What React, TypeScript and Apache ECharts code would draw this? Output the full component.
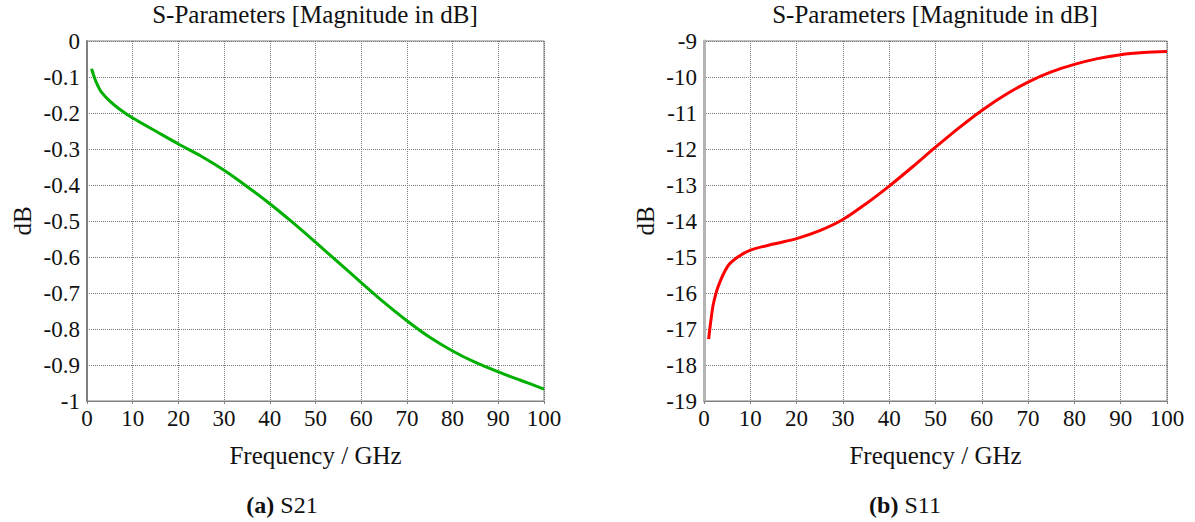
import React, { useEffect, useRef } from "react";
import * as echarts from "echarts";

const freq = [1, 1.5, 2, 3, 5, 7, 10, 15, 20, 25, 30, 35, 40, 45, 50, 55, 60, 65, 70, 75, 80, 85, 90, 95, 100];
const s21 = [-0.077, -0.097, -0.114, -0.139, -0.167, -0.188, -0.214, -0.25, -0.286, -0.32, -0.359, -0.404, -0.452, -0.504, -0.559, -0.615, -0.671, -0.726, -0.777, -0.823, -0.861, -0.893, -0.919, -0.943, -0.967];
const s11 = [-17.28, -16.75, -16.32, -15.84, -15.28, -15.03, -14.81, -14.64, -14.49, -14.27, -13.96, -13.52, -13.03, -12.5, -11.95, -11.42, -10.93, -10.5, -10.14, -9.86, -9.65, -9.49, -9.38, -9.32, -9.29];
const xTicks = [0, 10, 20, 30, 40, 50, 60, 70, 80, 90, 100];
const titleText = "S-Parameters [Magnitude in dB]";
const xName = "Frequency / GHz";
const yName = "dB";

const FONT = "Liberation Serif, Times New Roman, serif";
const TICK_FS = 23;
const NAME_FS = 25;

export default function App() {
  const ref = useRef<HTMLDivElement>(null);
  useEffect(() => {
    document.body.style.margin = "0";
    const chart = echarts.init(ref.current!, undefined, { renderer: "svg" });
    const mkX = (gridIndex: number) => ({
      type: "value",
      gridIndex,
      min: xTicks[0],
      max: xTicks[xTicks.length - 1],
      interval: 10,
      name: xName,
      nameLocation: "middle",
      nameGap: 42,
      nameTextStyle: { fontFamily: FONT, fontSize: NAME_FS, color: "#111" },
      axisLine: { show: true, onZero: false, lineStyle: { color: "#808080", width: 1 } },
      axisTick: { show: true, length: 3, lineStyle: { color: "#808080" } },
      axisLabel: { fontFamily: FONT, fontSize: TICK_FS, color: "#111", margin: 6 },
      splitLine: { show: true, lineStyle: { type: "dotted", color: "#7a7a7a", width: 1 } },
    });
    const mkY = (gridIndex: number, min: number, max: number, interval: number, gap: number, axColor: string, axWidth: number) => ({
      type: "value",
      gridIndex,
      min,
      max,
      interval,
      name: yName,
      nameLocation: "middle",
      nameGap: gap,
      nameRotate: 90,
      nameTextStyle: { fontFamily: FONT, fontSize: NAME_FS, color: "#111" },
      axisLine: { show: true, onZero: false, lineStyle: { color: axColor, width: axWidth } },
      axisTick: { show: false },
      axisLabel: { fontFamily: FONT, fontSize: TICK_FS, color: "#111", margin: 7 },
      splitLine: { show: true, lineStyle: { type: "dotted", color: "#7a7a7a", width: 1 } },
    });
    const titleStyle = { fontFamily: FONT, fontSize: NAME_FS, fontWeight: "normal", color: "#111" };
    const capRich = {
      b: { fontFamily: FONT, fontSize: 24, fontWeight: "bold", fill: "#111" },
      n: { fontFamily: FONT, fontSize: 24, fill: "#111" },
    };
    chart.setOption({
      animation: false,
      backgroundColor: "#ffffff",
      textStyle: { fontFamily: FONT },
      title: [
        { text: titleText, left: 315, top: 2, padding: 0, textAlign: "center", textStyle: titleStyle },
        { text: titleText, left: 935, top: 2, padding: 0, textAlign: "center", textStyle: titleStyle },
      ],
      grid: [
        { left: 87, top: 41, width: 457, height: 360, show: true, borderColor: "#808080", borderWidth: 1 },
        { left: 704, top: 41, width: 463, height: 360, show: true, borderColor: "#808080", borderWidth: 1 },
      ],
      xAxis: [mkX(0), mkX(1)],
      yAxis: [
        mkY(0, -1, 0, 0.1, 52, "#808080", 2),
        mkY(1, -19, -9, 1, 46, "#b4b4b4", 3),
      ],
      series: [
        {
          type: "line",
          xAxisIndex: 0,
          yAxisIndex: 0,
          data: freq.map((f, i) => [f, s21[i]]),
          smooth: 0.3,
          showSymbol: false,
          lineStyle: { color: "#00b000", width: 3 },
        },
        {
          type: "line",
          xAxisIndex: 1,
          yAxisIndex: 1,
          data: freq.map((f, i) => [f, s11[i]]),
          smooth: 0.3,
          showSymbol: false,
          lineStyle: { color: "#ff0000", width: 3 },
        },
      ],
      graphic: [
        {
          type: "text",
          x: 282,
          y: 505,
          style: { text: "{b|(a)} {n|S21}", rich: capRich, fontFamily: FONT, fontSize: 24, fill: "#111", align: "center", verticalAlign: "middle" },
        },
        {
          type: "text",
          x: 905,
          y: 505,
          style: { text: "{b|(b)} {n|S11}", rich: capRich, fontFamily: FONT, fontSize: 24, fill: "#111", align: "center", verticalAlign: "middle" },
        },
      ],
    });
    return () => chart.dispose();
  }, []);
  return <div ref={ref} style={{ position: "absolute", left: 0, top: 0, width: 1195, height: 522 }} />;
}
